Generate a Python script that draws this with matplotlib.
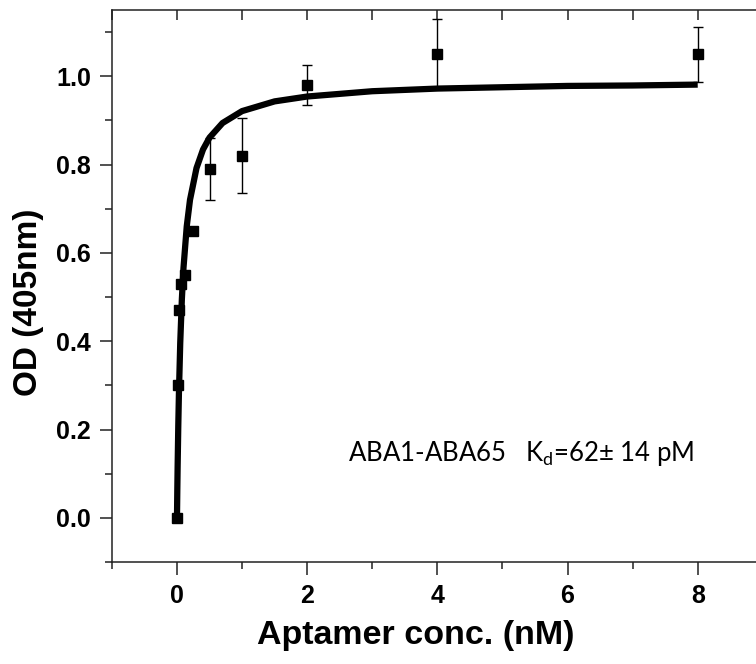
import matplotlib
matplotlib.use("Agg")
import matplotlib.pyplot as plt
from matplotlib.ticker import MultipleLocator, FixedLocator

# measured data (aptamer conc. nM vs OD405)
conc = [0, 0.0156, 0.03125, 0.0625, 0.125, 0.25, 0.5, 1, 2, 4, 8]
od = [0.0, 0.30, 0.47, 0.53, 0.55, 0.65, 0.79, 0.82, 0.98, 1.05, 1.05]
od_err = [0.0, 0.0, 0.0, 0.0, 0.0, 0.0, 0.07, 0.085, 0.046, 0.08, 0.062]

# fitted curve
fit_x = [0, 0.005, 0.01, 0.02, 0.03, 0.05, 0.075, 0.1, 0.15, 0.2, 0.3, 0.4,
         0.5, 0.7, 1.0, 1.5, 2, 3, 4, 5, 6, 7, 8]
fit_y = [0, 0.062, 0.116, 0.208, 0.283, 0.396, 0.495, 0.566, 0.660, 0.720,
         0.792, 0.834, 0.861, 0.894, 0.921, 0.943, 0.954, 0.966, 0.972,
         0.975, 0.978, 0.979, 0.981]

xticks = [0, 2, 4, 6, 8]
yticks = [0.0, 0.2, 0.4, 0.6, 0.8, 1.0]

fig = plt.figure(figsize=(7.56, 6.64), dpi=100)
ax = fig.add_axes([0.148, 0.1536, 0.861, 0.8314])

ax.plot(fit_x, fit_y, color="black", lw=4.5, solid_capstyle="butt", zorder=3)
ax.errorbar(conc, od, yerr=od_err, fmt="s", color="black", ms=7,
            ecolor="black", elinewidth=1.0, capsize=3.5, capthick=1.0, zorder=4)

ax.set_xlim(-1, 9)
ax.set_ylim(-0.1, 1.15)

ax.xaxis.set_major_locator(FixedLocator(xticks))
ax.xaxis.set_minor_locator(MultipleLocator(1))
ax.yaxis.set_major_locator(FixedLocator(yticks))
ax.yaxis.set_minor_locator(MultipleLocator(0.1))
ax.set_xticklabels([str(v) for v in xticks])
ax.set_yticklabels([f"{v:.1f}" for v in yticks])

for s in ax.spines.values():
    s.set_linewidth(1.1)
    s.set_color("#222222")
ax.spines["right"].set_visible(False)

ax.tick_params(axis="both", which="major", direction="out", length=9, width=1.1,
               color="#222222", labelsize=18)
ax.tick_params(axis="both", which="minor", direction="out", length=5, width=1.1,
               color="#222222")
ax.tick_params(axis="y", which="major", pad=6)
ax.tick_params(axis="x", which="major", pad=7)
for lab in ax.get_xticklabels() + ax.get_yticklabels():
    lab.set_fontfamily("Liberation Sans")
    lab.set_fontweight("bold")

# inward ticks on top spine at every integer
top = ax.secondary_xaxis("top")
top.xaxis.set_major_locator(MultipleLocator(1))
top.tick_params(direction="in", length=7, width=1.1, color="#222222", labelsize=0)
top.set_xticklabels([])
top.spines["top"].set_visible(False)

ax.set_xlabel("Aptamer conc. (nM)", fontsize=24.5, fontweight="bold",
              fontfamily="Liberation Sans", labelpad=8)
ax.xaxis.set_label_coords(0.467, -0.105)
ax.set_ylabel("OD (405nm)", fontsize=24, fontweight="bold",
              fontfamily="Liberation Sans")
ax.yaxis.set_label_coords(-0.104, 0.471)

ax.text(0.3625, 0.197, r"ABA1-ABA65   K$_\mathregular{d}$=62± 14 pM",
        transform=ax.transAxes, fontsize=18.5, fontfamily="Lato",
        ha="left", va="center")

fig.savefig("out.png", dpi=100)
